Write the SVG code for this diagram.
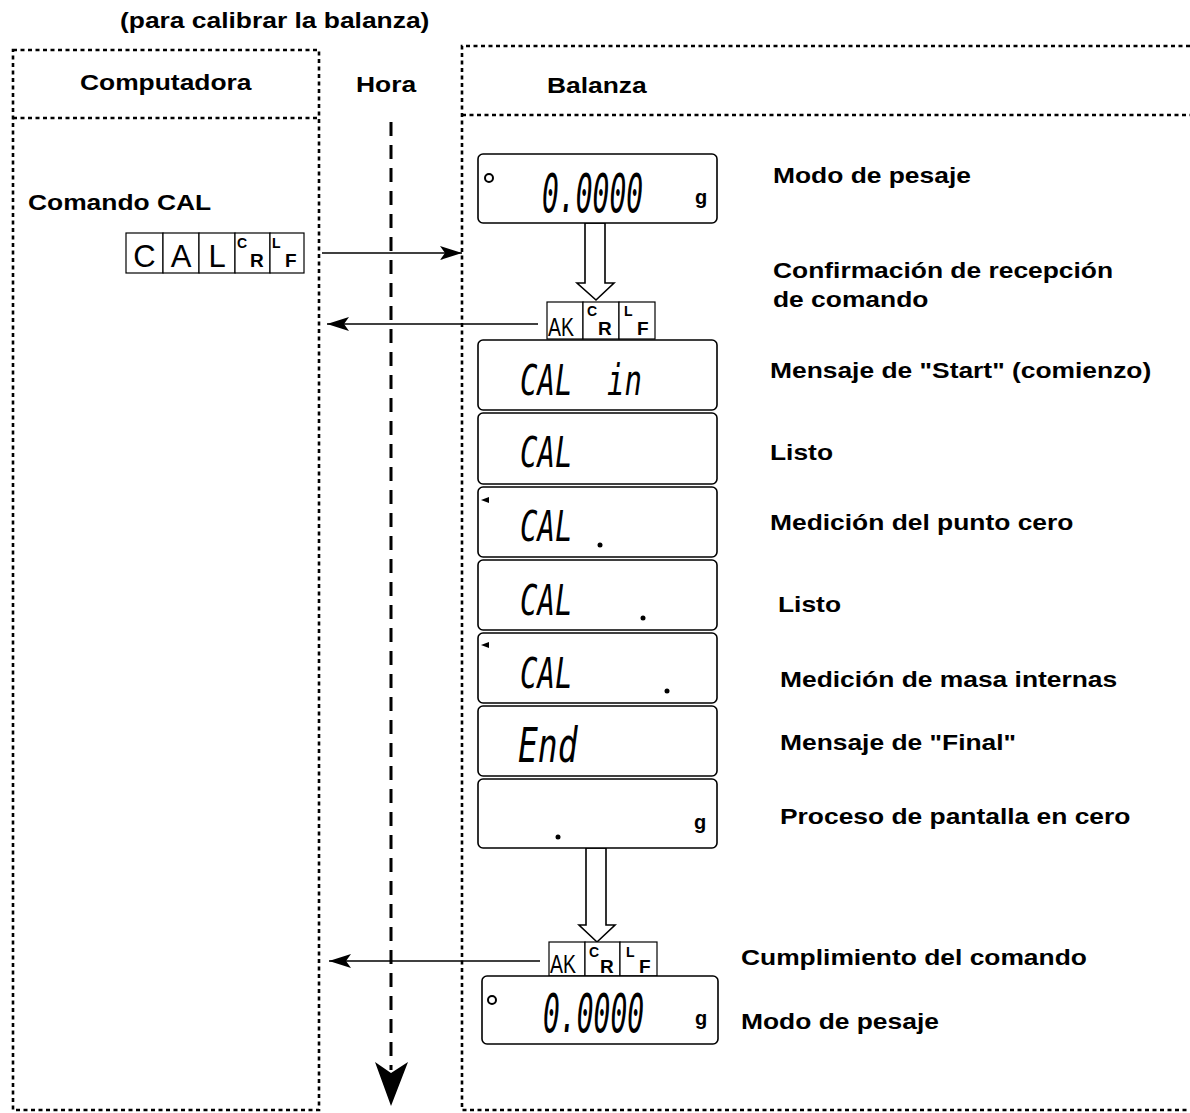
<svg xmlns="http://www.w3.org/2000/svg" width="1190" height="1113" viewBox="0 0 1190 1113">
<style>
.lbl{font-family:"Liberation Sans",Arial,sans-serif;font-weight:bold;font-size:22px;fill:#000}
.seg{font-family:"DejaVu Sans Mono",monospace;font-style:italic;fill:#000}
.box{fill:none;stroke:#000;stroke-width:2.6;stroke-dasharray:4 3.5}
.disp{fill:#fff;stroke:#000;stroke-width:1.6}
.cell{fill:#fff;stroke:#000;stroke-width:1.2}
.conn{stroke:#000;stroke-width:1.6;fill:none}
.ch{font-family:"Liberation Sans",Arial,sans-serif;font-size:31px;fill:#000;text-anchor:middle}
.ak{font-family:"Liberation Sans",Arial,sans-serif;font-size:25px;fill:#000}
.sm{font-family:"Liberation Sans",Arial,sans-serif;font-weight:bold;fill:#000}
.g{font-family:"Liberation Sans",Arial,sans-serif;font-weight:bold;font-size:20px;fill:#000}
.hollow{fill:#fff;stroke:#000;stroke-width:1.6}
</style>
<defs>
<marker id="ah" markerUnits="userSpaceOnUse" markerWidth="22" markerHeight="14" refX="22" refY="7" orient="auto">
<path d="M0,0 L22,7 L0,14 L5,7 z" fill="#000"/>
</marker>
</defs>
<rect width="1190" height="1113" fill="#fff"/>

<text class="lbl" transform="translate(120,28) scale(1.2,1)">(para calibrar la balanza)</text>

<g id="computadora">
<rect class="box" x="13" y="50" width="306" height="1060"/>
<line class="box" x1="13" y1="118" x2="319" y2="118"/>
<text class="lbl" transform="translate(80,90) scale(1.2,1)">Computadora</text>
<text class="lbl" transform="translate(28,210) scale(1.2,1)">Comando CAL</text>
</g>

<g id="hora">
<text class="lbl" transform="translate(356,92) scale(1.2,1)">Hora</text>
<line x1="391" y1="122" x2="391" y2="1070" stroke="#000" stroke-width="3" stroke-dasharray="14 9"/>
<polygon points="375,1062 391,1073 408,1062 391,1106" fill="#000"/>
</g>

<g id="balanza">
<path class="box" d="M1190,46 L462,46 L462,1110 L1190,1110"/>
<line class="box" x1="462" y1="115" x2="1190" y2="115"/>
<text class="lbl" transform="translate(547,93) scale(1.2,1)">Balanza</text>
</g>

<g id="cmd-cal">
<rect class="cell" x="126" y="233" width="37" height="40"/>
<rect class="cell" x="163" y="233" width="36" height="40"/>
<rect class="cell" x="199" y="233" width="36" height="40"/>
<rect class="cell" x="235" y="233" width="35" height="40"/>
<rect class="cell" x="270" y="233" width="34" height="40"/>
<text class="ch" x="144.5" y="267">C</text>
<text class="ch" x="181" y="267">A</text>
<text class="ch" x="217" y="267">L</text>
<text class="sm" x="237" y="248" font-size="14">C</text>
<text class="sm" x="250" y="267" font-size="19">R</text>
<text class="sm" x="272" y="248" font-size="14">L</text>
<text class="sm" x="285" y="267" font-size="19">F</text>
</g>

<g id="connectors">
<line class="conn" x1="322" y1="253" x2="462" y2="253" marker-end="url(#ah)"/>
<line class="conn" x1="538" y1="324" x2="327" y2="324" marker-end="url(#ah)"/>
<line class="conn" x1="540" y1="961" x2="329" y2="961" marker-end="url(#ah)"/>
<polygon class="hollow" points="585,223 605,223 605,283 614,283 596,300 577,283 585,283"/>
<polygon class="hollow" points="586,848 606,848 606,925 615,925 597,942 579,925 586,925"/>
</g>

<g id="ack1">
<rect class="cell" x="547" y="302" width="36" height="37"/>
<rect class="cell" x="583" y="302" width="36" height="37"/>
<rect class="cell" x="619" y="302" width="36" height="37"/>
<text class="ak" transform="translate(548,336) scale(0.78,1)">AK</text>
<text class="sm" x="587" y="316" font-size="14">C</text>
<text class="sm" x="598" y="335" font-size="19">R</text>
<text class="sm" x="624" y="316" font-size="14">L</text>
<text class="sm" x="637" y="335" font-size="19">F</text>
</g>

<g id="ack2">
<rect class="cell" x="549" y="942" width="36" height="34"/>
<rect class="cell" x="585" y="942" width="35" height="34"/>
<rect class="cell" x="620" y="942" width="37" height="34"/>
<text class="ak" transform="translate(550,973) scale(0.78,1)">AK</text>
<text class="sm" x="589" y="957" font-size="14">C</text>
<text class="sm" x="600" y="973" font-size="19">R</text>
<text class="sm" x="626" y="957" font-size="14">L</text>
<text class="sm" x="639" y="973" font-size="19">F</text>
</g>

<g id="disp1">
<rect class="disp" x="478" y="154" width="239" height="69" rx="5"/>
<circle cx="489" cy="178" r="4" fill="none" stroke="#000" stroke-width="2"/>
<text class="seg" font-size="28" transform="translate(542,212) scale(1,1.9)">0.0000</text>
<text class="g" x="695" y="204">g</text>
</g>

<g id="disp2">
<rect class="disp" x="478" y="340" width="239" height="70" rx="5"/>
<text class="seg" font-size="29" transform="translate(520,395) scale(1,1.5)">CAL</text>
<text class="seg" font-size="29" transform="translate(607,395) scale(1,1.5)">in</text>
</g>

<g id="disp3">
<rect class="disp" x="478" y="413" width="239" height="71" rx="5"/>
<text class="seg" font-size="29" transform="translate(520,467) scale(1,1.5)">CAL</text>
</g>

<g id="disp4">
<rect class="disp" x="478" y="487" width="239" height="70" rx="5"/>
<polygon points="481,500 489,497 489,503" fill="#000"/>
<text class="seg" font-size="29" transform="translate(520,541) scale(1,1.5)">CAL</text>
<circle cx="600" cy="545" r="2.5" fill="#000"/>
</g>

<g id="disp5">
<rect class="disp" x="478" y="560" width="239" height="70" rx="5"/>
<text class="seg" font-size="29" transform="translate(520,615) scale(1,1.5)">CAL</text>
<circle cx="643" cy="618" r="2.5" fill="#000"/>
</g>

<g id="disp6">
<rect class="disp" x="478" y="633" width="239" height="70" rx="5"/>
<polygon points="481,645 489,642 489,648" fill="#000"/>
<text class="seg" font-size="29" transform="translate(520,688) scale(1,1.5)">CAL</text>
<circle cx="667" cy="691" r="2.5" fill="#000"/>
</g>

<g id="disp7">
<rect class="disp" x="478" y="706" width="239" height="70" rx="5"/>
<text class="seg" font-size="33" transform="translate(518,762) scale(1,1.45)">End</text>
</g>

<g id="disp8">
<rect class="disp" x="478" y="779" width="239" height="69" rx="5"/>
<circle cx="558" cy="837" r="2.5" fill="#000"/>
<text class="g" x="694" y="829">g</text>
</g>

<g id="disp9">
<rect class="disp" x="482" y="976" width="236" height="68" rx="5"/>
<circle cx="492" cy="1000" r="4" fill="none" stroke="#000" stroke-width="2"/>
<text class="seg" font-size="28" transform="translate(543,1032) scale(1,1.9)">0.0000</text>
<text class="g" x="695" y="1025">g</text>
</g>

<g id="labels">
<text class="lbl" transform="translate(773,183) scale(1.2,1)">Modo de pesaje</text>
<text class="lbl" transform="translate(773,278) scale(1.2,1)">Confirmación de recepción</text>
<text class="lbl" transform="translate(773,307) scale(1.2,1)">de comando</text>
<text class="lbl" transform="translate(770,378) scale(1.2,1)">Mensaje de "Start" (comienzo)</text>
<text class="lbl" transform="translate(770,460) scale(1.2,1)">Listo</text>
<text class="lbl" transform="translate(770,530) scale(1.2,1)">Medición del punto cero</text>
<text class="lbl" transform="translate(778,612) scale(1.2,1)">Listo</text>
<text class="lbl" transform="translate(780,687) scale(1.2,1)">Medición de masa internas</text>
<text class="lbl" transform="translate(780,750) scale(1.2,1)">Mensaje de "Final"</text>
<text class="lbl" transform="translate(780,824) scale(1.2,1)">Proceso de pantalla en cero</text>
<text class="lbl" transform="translate(741,965) scale(1.2,1)">Cumplimiento del comando</text>
<text class="lbl" transform="translate(741,1029) scale(1.2,1)">Modo de pesaje</text>
</g>
</svg>
